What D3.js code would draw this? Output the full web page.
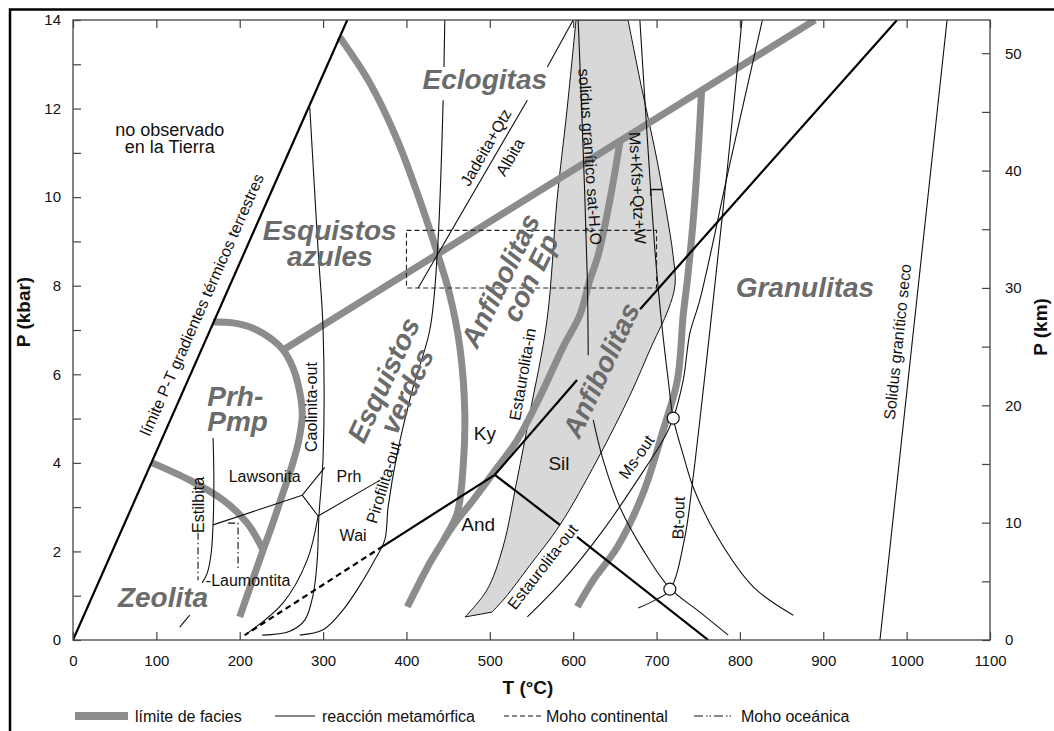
<!DOCTYPE html>
<html>
<head>
<meta charset="utf-8">
<script src="https://cdn.jsdelivr.net/npm/d3@7/dist/d3.min.js"></script>
<style>
  body { margin: 0; background: #fff; }
  svg text { font-family: "Liberation Sans", Arial, Helvetica, sans-serif; }
  .facies { font-weight: bold; font-style: italic; font-size: 28px; fill: #6b6b6b; }
  .small { font-size: 16px; fill: #111; }
  .big { font-size: 18px; fill: #111; }
  .mineral { font-size: 19px; fill: #111; }
  .axis-title { font-weight: bold; font-size: 19px; fill: #111; }
</style>
</head>
<body>
<svg id="canvas" width="1054" height="731"></svg>
<script>
"use strict";

// ticks
var tempTicks = d3.range(0, 1101, 100);
var kbarTicks = d3.range(0, 15, 1);
var kmTicks = d3.range(0, 51, 5);

// facies limits, points are [T (°C), P (kbar)]
var faciesDiagonal = [[252, 6.55], [890, 14]];
var prhPmpArc = [[168, 7.18], [192, 7.16], [216, 7.04], [240, 6.77], [252, 6.55], [264, 6.14], [272, 5.6],
    [275, 5.08], [271, 4.52], [263, 3.95], [251, 3.27], [239, 2.6], [228, 2.03], [200, 0.52]];
var zeoliteLimit = [[95, 4.0], [140, 3.61], [180, 3.16], [209, 2.64], [228, 2.03]];
var blueschistArc = [[320, 13.61], [356, 12.58], [389, 11.29], [416, 9.93], [437, 8.74], [452, 7.79], [464, 6.62],
    [470, 5.13], [468, 3.91], [461, 2.87], [446, 2.3], [428, 1.74], [401, 0.75]];
var epAmphLimit = [[656, 11.24], [644, 9.93], [630, 8.69], [620, 8.13], [608, 7.34], [588, 6.62], [560, 5.49],
    [533, 4.52], [504, 3.77], [480, 3.16], [461, 2.71], [446, 2.3]];
var granuliteLimit = [[754, 12.4], [750, 11.06], [744, 9.48], [737, 8.13], [732, 7.34], [725, 5.87], [708, 4.74],
    [684, 3.32], [653, 2.1], [624, 1.35], [605, 0.75]];

// staurolite field (shaded)
var stauroliteIn = [[603.4, 14], [592.6, 11.97], [580.6, 9.93], [568.6, 7.22], [548.2, 5.13], [532.6, 3.61],
    [515.8, 2.1], [496.6, 1.13], [470.2, 0.52]];
var stauroliteOut = [[665.8, 14], [681.4, 12.53], [698.2, 11.06], [711.4, 9.71], [719.8, 8.69], [722.2, 8.02],
    [713.8, 7.45], [694.6, 6.66], [668.2, 5.53], [628.6, 4.06], [584.2, 2.6], [548.2, 1.69], [518.2, 0.95], [502.6, 0.63]];

// black (thick) lines
var ptLimit = [[0, 0], [329, 14]];
var kySil = [[[506, 3.73], [604.6, 5.87]], [[680.2, 7.47], [988.5, 14]]];
var andSil = [[[506, 3.73], [584, 2.6]], [[604.6, 2.33], [762, 0]]];
var andKy = [[506, 3.73], [372, 2.12]];
var andKyDashed = [[372, 2.12], [206, 0.11]];

// reactions (thin)
var jadeitaAlbita = [[[600, 14], [569, 12.94]], [[545, 12.19], [414, 7.95]]];
var pirofilitaOut = [[[446, 14], [445, 12.94]],
    [[444, 12.19], [437, 8.74], [428, 7.0], [408, 5.71], [389, 4.22], [378, 3.0], [374, 2.26], [362, 1.81],
     [348, 1.35], [324, 0.68], [300, 0.23], [272, 0.11]]];
var caolinitaOut = [[284, 12.03], [294, 8.81], [300, 7.0], [300, 4.13], [295, 2.8], [293, 1.81], [288, 1.02],
    [278, 0.45], [260, 0.2], [227, 0.11]];
var lawsoniteLines = [[[168, 2.6], [275, 3.27]], [[275, 3.27], [302, 3.9]], [[275, 3.27], [294, 2.8]],
    [[294, 2.8], [368.5, 3.61]], [[294, 2.8], [281, 1.81], [252, 0.84], [206, 0.11]]];
var estilbitaLine = [[168, 4.56], [169, 3.61], [168, 2.6], [165.5, 1.92], [161, 1.51], [155, 1.29]];
var oceanicMoho = [[[150, 2.42], [150, 1.35]], [[186, 2.64], [198, 2.64], [198, 1.58]]];
var zeoliteTick = [[128, 0.29], [140, 0.56]];
var wetSolidus = [[[606, 14], [612, 11.06], [617, 8.13], [618, 6.43]],
    [[624, 4.97], [636, 4.06], [656, 3.0], [684, 2.03], [716, 1.17], [752, 0.63], [786, 0.11]]];
var msOut = [[827, 14], [789, 10.84], [752, 7.68], [740, 6.93], [732, 5.87], [720, 5.01], [708, 4.52],
    [677, 3.61], [636, 2.48], [588, 1.35], [545, 0.52]];
var btOut = [[802.5, 14], [786, 10.84], [768, 7.68], [756, 5.64], [743, 3.54], [734, 2.33], [716, 1.13],
    [698, 0.9], [678, 0.72]];
var meltLine = [[680, 14], [686, 12.19], [693, 10.16], [699, 8.58], [707, 7.0], [714, 5.87], [720, 5.01],
    [732, 4.18], [744, 3.45], [773, 2.33], [816, 1.2], [864, 0.56]];
var drySolidus = [[1048.5, 14], [968, 0]];
var invariantPoints = [[720, 5.01], [716, 1.15]];
var boxT = [400, 700];
var boxP = [7.95, 9.25];

// annotations [text, T, P, angle, class, anchor]
var annotations = [
    ["Eclogitas", 494, 12.44, 0, "facies"],
    ["Esquistos", 308, 9.03, 0, "facies"],
    ["azules", 308, 8.44, 0, "facies"],
    ["Prh-", 161, 5.28, 0, "facies", "start"],
    ["Pmp", 161, 4.72, 0, "facies", "start"],
    ["Zeolita", 108, 0.75, 0, "facies"],
    ["Esquistos", 383, 5.78, -65, "facies"],
    ["verdes", 411, 5.53, -65, "facies"],
    ["Anfibolitas", 523, 8.02, -64, "facies"],
    ["con Ep", 559, 8.08, -64, "facies"],
    ["Anfibolitas", 644, 6.0, -65, "facies"],
    ["Granulitas", 878, 7.75, 0, "facies"],
    ["no observado", 116, 11.38, 0, "big"],
    ["en la Tierra", 116, 11.0, 0, "big"],
    ["límite P-T gradientes térmicos terrestres", 160.7, 7.52, -66.2, "small"],
    ["Jadeita+Qtz", 501, 11.06, -60, "small"],
    ["Albita", 530, 10.84, -60, "small"],
    ["Ms+Kfs+Qtz+W", 670.6, 10.2, 87, "small"],
    ["L", 692, 10.12, 90, "small"],
    ["Caolinita-out", 292.7, 5.26, -90, "small"],
    ["Estilbita", 157, 3.05, -90, "small"],
    ["Lawsonita", 230, 3.57, 0, "small"],
    ["Prh", 331, 3.57, 0, "small"],
    ["Wai", 336, 2.24, 0, "small"],
    ["-Laumontita", 210, 1.22, 0, "small"],
    ["Pirofilita-out", 379, 3.52, -73, "small"],
    ["Estaurolita-in", 545.8, 5.98, -80, "small"],
    ["Ky", 494, 4.52, 0, "mineral"],
    ["Sil", 583, 3.84, 0, "mineral"],
    ["And", 486, 2.46, 0, "mineral"],
    ["Estaurolita-out", 568.6, 1.58, -52, "small"],
    ["Ms-out", 681.5, 4.06, -55, "small"],
    ["Bt-out", 733, 2.75, -88, "small"],
    ["Solidus granítico seco", 995.7, 6.72, -84, "small"]
];

var legendItems = [
    ["límite de facies", "facies"],
    ["reacción metamórfica", "reaction"],
    ["Moho continental", "continental"],
    ["Moho oceánica", "oceanic"]
];

var svg = d3.select("#canvas");
var x = d3.scaleLinear().domain([0, 1100]).range([73, 990]);
var y = d3.scaleLinear().domain([0, 14]).range([640, 20]);
var yKm = d3.scaleLinear().domain([0, 52.83]).range([640, 20]);

var curved = d3.line()
    .x(function(d) { return x(d[0]); })
    .y(function(d) { return y(d[1]); })
    .curve(d3.curveCatmullRom.alpha(0.5));
var straight = d3.line()
    .x(function(d) { return x(d[0]); })
    .y(function(d) { return y(d[1]); });

// outer frame of the figure
svg.append("path").attr("d", "M10,731V9.5H1054")
    .attr("fill", "none").attr("stroke", "#000").attr("stroke-width", 2.5);

svg.append("defs").append("clipPath").attr("id", "plotClip")
    .append("rect").attr("x", 73).attr("y", 20).attr("width", 917).attr("height", 620);

var plot = svg.append("g").attr("clip-path", "url(#plotClip)");

function drawPaths(group, list, gen, stroke, width, dash) {
    group.selectAll(null)
        .data(list)
        .enter().append("path")
        .attr("d", gen)
        .attr("fill", "none")
        .attr("stroke", stroke)
        .attr("stroke-width", width)
        .attr("stroke-dasharray", dash || null);
}

// staurolite field
var dIn = curved(stauroliteIn);
var dOut = curved(stauroliteOut.slice().reverse());
plot.append("path")
    .attr("d", dIn + "L" + dOut.slice(1) + "Z")
    .attr("fill", "#d8d8d8")
    .attr("stroke", "#111")
    .attr("stroke-width", 1);

// facies limits
drawPaths(plot, [faciesDiagonal, prhPmpArc, zeoliteLimit, blueschistArc, epAmphLimit, granuliteLimit],
    curved, "#8c8c8c", 7);

// metamorphic reactions
var thin = [].concat(jadeitaAlbita, pirofilitaOut, [caolinitaOut], lawsoniteLines, [estilbitaLine],
    [zeoliteTick], wetSolidus, [msOut], [btOut], [meltLine], [drySolidus]);
drawPaths(plot, thin, curved, "#111", 1.1);
drawPaths(plot, oceanicMoho, straight, "#111", 1.1, "7,3,1.5,3");

// dashed box
plot.append("rect")
    .attr("x", x(boxT[0])).attr("y", y(boxP[1]))
    .attr("width", x(boxT[1]) - x(boxT[0]))
    .attr("height", y(boxP[0]) - y(boxP[1]))
    .attr("fill", "none").attr("stroke", "#222").attr("stroke-width", 1.1)
    .attr("stroke-dasharray", "5,3");

// aluminosilicates + P-T limit
drawPaths(plot, [ptLimit, andKy].concat(kySil, andSil), straight, "#000", 2.2);
drawPaths(plot, [andKyDashed], straight, "#000", 2.2, "6,4");

plot.selectAll("circle.inv")
    .data(invariantPoints)
    .enter().append("circle")
    .attr("class", "inv")
    .attr("cx", function(d) { return x(d[0]); })
    .attr("cy", function(d) { return y(d[1]); })
    .attr("r", 6)
    .attr("fill", "#fff").attr("stroke", "#111").attr("stroke-width", 1.2);

// axes
function styleAxis(g) {
    g.select(".domain").remove();
    g.selectAll(".tick line").attr("stroke", "#444").attr("stroke-width", 1.2);
    g.selectAll(".tick text").attr("font-size", 15).attr("fill", "#111")
        .attr("font-family", "Liberation Sans, Arial, sans-serif");
}

svg.append("g").attr("transform", "translate(0,640)")
    .call(d3.axisBottom(x).tickValues(tempTicks).tickSizeInner(-8).tickSizeOuter(0).tickPadding(15)
        .tickFormat(d3.format("d")))
    .call(styleAxis);
svg.append("g").attr("transform", "translate(0,20)")
    .call(d3.axisTop(x).tickValues(tempTicks).tickSizeInner(-8).tickSizeOuter(0).tickFormat(""))
    .call(styleAxis);
svg.append("g").attr("transform", "translate(73,0)")
    .call(d3.axisLeft(y).tickValues(kbarTicks).tickSizeInner(-8).tickSizeOuter(0).tickPadding(12)
        .tickFormat(function(d) { return d % 2 === 0 ? d : ""; }))
    .call(styleAxis);
svg.append("g").attr("transform", "translate(990,0)")
    .call(d3.axisRight(yKm).tickValues(kmTicks).tickSizeInner(-8).tickSizeOuter(0).tickPadding(15)
        .tickFormat(function(d) { return d % 10 === 0 ? d : ""; }))
    .call(styleAxis);

svg.append("rect").attr("x", 73).attr("y", 20).attr("width", 917).attr("height", 620)
    .attr("fill", "none").attr("stroke", "#444").attr("stroke-width", 1.3);

svg.append("text").attr("class", "axis-title").attr("x", 528).attr("y", 694)
    .attr("text-anchor", "middle").text("T (°C)");
svg.append("text").attr("class", "axis-title").attr("transform", "translate(30,312) rotate(-90)")
    .attr("text-anchor", "middle").text("P (kbar)");
svg.append("text").attr("class", "axis-title").attr("transform", "translate(1047,327) rotate(-90)")
    .attr("text-anchor", "middle").attr("font-size", 18).text("P (km)");

// labels
var labels = svg.append("g");
labels.selectAll(null)
    .data(annotations)
    .enter().append("text")
    .attr("class", function(d) { return d[4]; })
    .attr("text-anchor", function(d) { return d[5] || "middle"; })
    .attr("transform", function(d) {
        return "translate(" + x(d[1]) + "," + y(d[2]) + ") rotate(" + d[3] + ")";
    })
    .text(function(d) { return d[0]; });

// solidus granítico sat-H2O, with subscript
var sol = labels.append("text").attr("class", "small")
    .attr("text-anchor", "middle")
    .attr("transform", "translate(" + x(613.5) + "," + y(10.9) + ") rotate(86)");
sol.append("tspan").text("solidus granítico sat-H");
sol.append("tspan").attr("font-size", 11).attr("dy", 4).text("2");
sol.append("tspan").attr("dy", -4).text("O");

// legend
var legend = svg.append("g").attr("transform", "translate(0,716)");
var legendX = [75, 275, 504, 694];
legend.selectAll("g.item")
    .data(legendItems)
    .enter().append("g")
    .attr("class", "item")
    .attr("transform", function(d, i) { return "translate(" + legendX[i] + ",0)"; })
    .each(function(d) {
        var g = d3.select(this);
        if (d[1] === "facies") {
            g.append("rect").attr("x", 0).attr("y", -4).attr("width", 53).attr("height", 8).attr("fill", "#8c8c8c");
            g.append("text").attr("class", "small").attr("x", 60).attr("y", 6).text(d[0]);
        } else {
            var dash = d[1] === "continental" ? "5,3" : (d[1] === "oceanic" ? "9,3,1.5,2,1.5,3" : null);
            g.append("line").attr("x1", 0).attr("x2", 40).attr("y1", 0).attr("y2", 0)
                .attr("stroke", "#111").attr("stroke-width", 1.2).attr("stroke-dasharray", dash);
            g.append("text").attr("class", "small").attr("x", d[1] === "continental" ? 42 : 47)
                .attr("y", 6).text(d[0]);
        }
    });
</script>
</body>
</html>
